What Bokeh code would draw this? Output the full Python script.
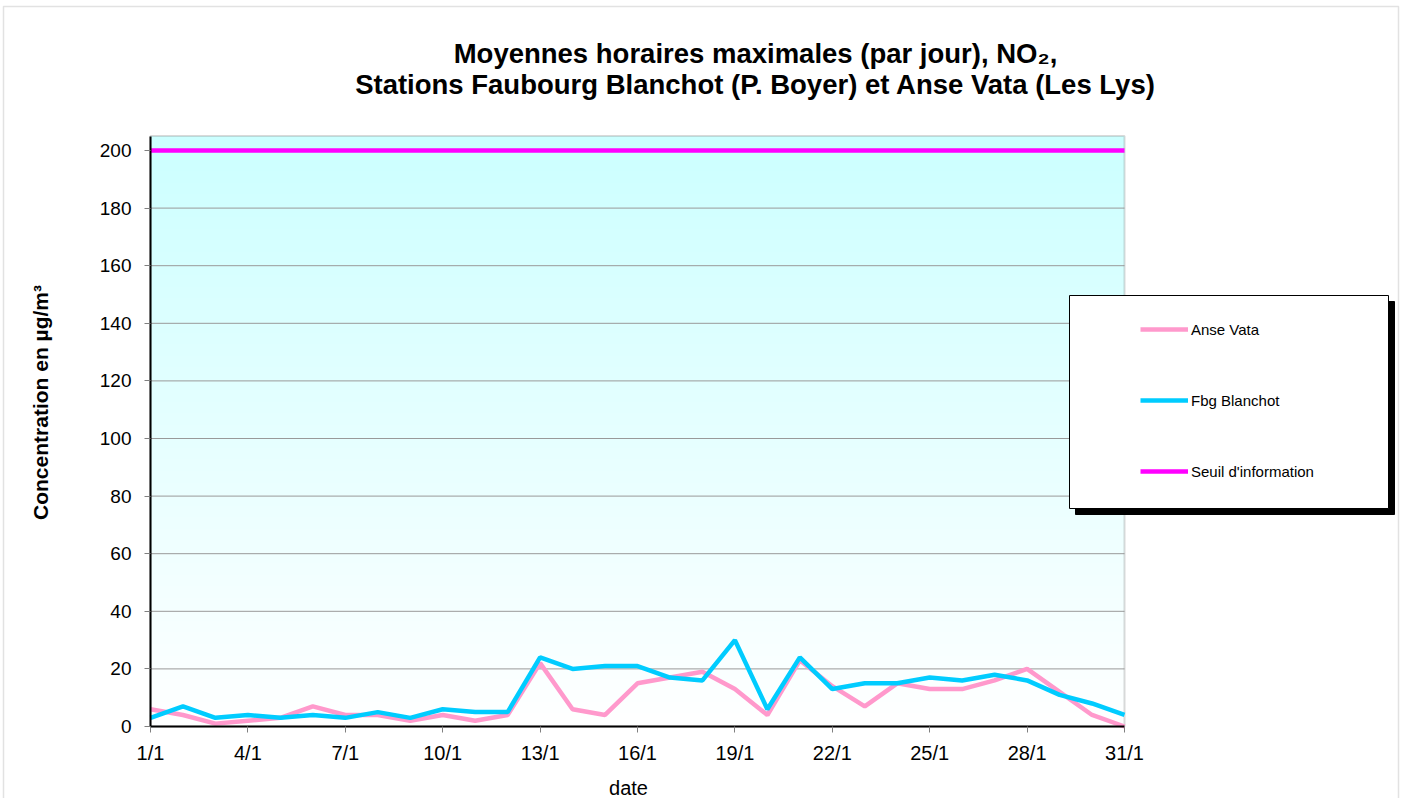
import math
import numpy as np
from bokeh.plotting import figure
from bokeh.models import (Legend, LegendItem, Label, BoxAnnotation, FixedTicker,
                          Range1d, ColumnDataSource)
from bokeh.embed import file_html
from bokeh.resources import INLINE

# ---------------- data ----------------
days = list(range(1, 32))
anse_vata = [6, 4, 1, 2, 3, 7, 4, 4, 2, 4, 2, 4, 22, 6, 4, 15,
             17, 19, 13, 4, 23, 14, 7, 15, 13, 13, 16, 20, 12, 4, 0]
fbg_blanchot = [3, 7, 3, 4, 3, 4, 3, 5, 3, 6, 5, 5, 24, 20, 21, 21,
                17, 16, 30, 6, 24, 13, 15, 15, 17, 16, 18, 16, 11, 8, 4]
seuil_information = [200, 200, 200, 200, 200, 200, 200, 200, 200, 200, 200,
                     200, 200, 200, 200, 200, 200, 200, 200, 200, 200, 200,
                     200, 200, 200, 200, 200, 200, 200, 200, 200]
series_names = ["Anse Vata", "Fbg Blanchot", "Seuil d'information"]
x_ticks = [1, 4, 7, 10, 13, 16, 19, 22, 25, 28, 31]
x_tick_labels = ["1/1", "4/1", "7/1", "10/1", "13/1", "16/1", "19/1",
                 "22/1", "25/1", "28/1", "31/1"]
y_ticks = [0, 20, 40, 60, 80, 100, 120, 140, 160, 180, 200]
grid_values = [20, 40, 60, 80, 100, 120, 140, 160, 180]
title_lines = ["Moyennes horaires maximales (par jour), NO\u2082,",
               "Stations Faubourg Blanchot (P. Boyer) et Anse Vata (Les Lys)"]
x_label = "date"
y_label = "Concentration en \u00b5g/m\u00b3"

# ---------------- layout ----------------
FONT = "Liberation Sans"
W, H = 1407, 798
PX0, PX1 = 1, 31
PY0, PY1 = 0, 205
PL, PR, PB = 150, 1124, 726
KX = (PR - PL) / (PX1 - PX0)          # px per day
KY = 2.88                             # px per unit
XS = PX0 - PL / KX
XE = XS + W / KX
YS = PY0 - (H - PB) / KY
YE = YS + H / KY


def dx(sx):
    return XS + sx / KX


def dy(sy):
    return YS + (H - sy) / KY


p = figure(width=W, height=H, output_backend="svg", toolbar_location=None,
           x_range=Range1d(XS, XE), y_range=Range1d(YS, YE),
           min_border=0, min_border_left=0, min_border_right=0,
           min_border_top=0, min_border_bottom=0)
p.background_fill_color = "white"
p.border_fill_color = "white"
p.outline_line_color = None

# outer chart border
p.add_layout(BoxAnnotation(left=dx(3), right=dx(1398), top=dy(6), bottom=dy(830),
                           fill_alpha=0, line_color="#A0A0A0", line_width=1.5,
                           level="underlay"))

# gradient background of plot area (cyan at top -> white at bottom)
n = 256
t = np.linspace(0, 1, n)
img = np.zeros((n, 1), dtype=np.uint32)
view = img.view(dtype=np.uint8).reshape((n, 1, 4))
view[:, 0, 0] = (255 - (255 - 204) * t).astype(np.uint8)
view[:, 0, 1] = 255
view[:, 0, 2] = 255
view[:, 0, 3] = 255
p.image_rgba(image=[img], x=PX0, y=PY0, dw=PX1 - PX0, dh=PY1 - PY0, level="image")

# horizontal grid lines limited to plot area
p.xgrid.grid_line_color = None
p.ygrid.grid_line_color = None
p.segment(x0=[PX0] * len(grid_values), x1=[PX1] * len(grid_values),
          y0=grid_values, y1=grid_values, line_color="#999999", line_width=1,
          level="underlay")

# plot-area border (gray top / right)
p.add_layout(BoxAnnotation(left=PX0, right=PX1, bottom=PY0, top=PY1,
                           fill_alpha=0, line_color="#808080", line_width=2,
                           level="underlay"))

src = ColumnDataSource(dict(day=days, av=anse_vata, fb=fbg_blanchot,
                            seuil=seuil_information))
r_av = p.line("day", "av", source=src, line_color="#FF99CC", line_width=4.5)
r_fb = p.line("day", "fb", source=src, line_color="#00CCFF", line_width=4.5)
r_se = p.line("day", "seuil", source=src, line_color="#FF00FF", line_width=4.5)

# axes fixed at plot-area edges
for ax in (p.xaxis, p.yaxis):
    ax.axis_line_color = "black"
    ax.axis_line_width = 2
    ax.major_tick_line_color = "#808080"
    ax.major_tick_in = 0
    ax.major_tick_out = 6
    ax.minor_tick_line_color = None
    ax.major_label_text_font = FONT
    ax.major_label_text_color = "black"

p.xaxis.fixed_location = PY0
p.xaxis.bounds = (PX0, PX1)
p.xaxis.ticker = FixedTicker(ticks=x_ticks)
p.xaxis.major_label_overrides = dict(zip(x_ticks, x_tick_labels))
p.xaxis.major_label_text_font_size = "20px"
p.xaxis.major_label_standoff = 9

p.yaxis.fixed_location = PX0
p.yaxis.bounds = (PY0, PY1)
p.yaxis.ticker = FixedTicker(ticks=y_ticks)
p.yaxis.major_label_text_font_size = "19px"
p.yaxis.major_label_standoff = 13

# axis titles
p.add_layout(Label(x=dx(628), y=dy(787), text=x_label, text_align="center",
                   text_baseline="middle", text_font=FONT,
                   text_font_size="20px", text_color="black"))
p.add_layout(Label(x=dx(40), y=dy(402), text=y_label, angle=math.pi / 2,
                   text_align="center", text_baseline="middle", text_font=FONT,
                   text_font_style="bold", text_font_size="21px",
                   text_color="black"))

# chart title
for txt, base in zip(title_lines, (53, 84)):
    p.add_layout(Label(x=dx(755), y=dy(base), text=txt, text_align="center",
                       text_baseline="alphabetic", text_font=FONT,
                       text_font_style="bold", text_font_size="27.5px",
                       text_color="black"))

# legend box with shadow
p.add_layout(BoxAnnotation(left=dx(1075), right=dx(1394), top=dy(301), bottom=dy(514),
                           fill_color="black", fill_alpha=1, line_color="black",
                           line_alpha=1, level="overlay"))
p.add_layout(BoxAnnotation(left=dx(1069), right=dx(1388), top=dy(295), bottom=dy(508),
                           fill_color="white", fill_alpha=1, line_color="black",
                           line_width=1, line_alpha=1, level="overlay"))

pad = 10
legend = Legend(items=[LegendItem(label=series_names[0], renderers=[r_av]),
                       LegendItem(label=series_names[1], renderers=[r_fb]),
                       LegendItem(label=series_names[2], renderers=[r_se])],
                location=(1140, H - 481),
                padding=pad, margin=0, spacing=51,
                glyph_width=48, glyph_height=20, label_height=20,
                label_standoff=3, label_text_font=FONT,
                label_text_font_size="15px", label_text_color="black",
                label_text_baseline="middle",
                background_fill_alpha=0, border_line_color=None,
                level="overlay")
p.add_layout(legend)

open("out.html", "w").write(file_html(p, INLINE))
